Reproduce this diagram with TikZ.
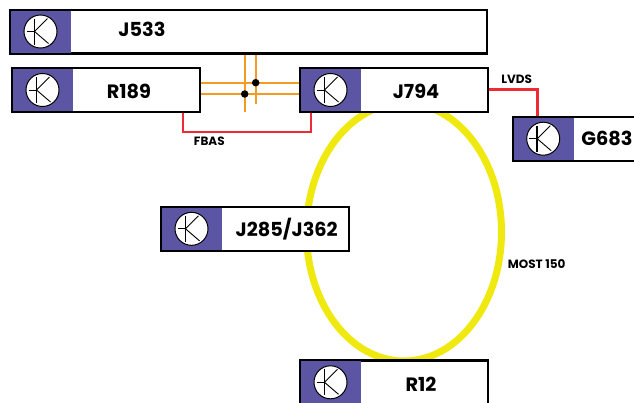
\documentclass[tikz,border=0pt]{standalone}
\usepackage{fontspec}
\setmainfont{Poppins}
\usepackage{tikz}
\usetikzlibrary{calc}
\definecolor{ecupurple}{HTML}{5B55A3}
\definecolor{mostyellow}{HTML}{F0E90F}
\definecolor{busorange}{HTML}{F59A23}
\definecolor{busred}{HTML}{EE2A35}
\tikzset{
  ecubox/.style={draw=black, fill=white, line width=2.2pt, anchor=north west, minimum height=43.8pt},
  ecuhead/.style={fill=ecupurple, anchor=west, minimum width=60pt, minimum height=42pt, inner sep=0pt, outer sep=0pt},
  ecucirc/.style={circle, draw=black, fill=white, line width=1pt, minimum size=33pt, inner sep=0pt},
  ecuname/.style={font=\fontsize{19.3}{21}\selectfont\bfseries, inner sep=0pt, anchor=base},
  busname/.style={font=\fontsize{12}{14}\selectfont\bfseries, inner sep=0pt, anchor=base},
  orangebus/.style={busorange, line width=2.4pt},
  redbus/.style={busred, line width=2.4pt},
  ringbus/.style={mostyellow, line width=7pt},
  jointdot/.style={circle, fill=black, minimum size=7.5pt, inner sep=0pt},
}
\begin{document}
\begin{tikzpicture}[x=1pt, y=-1pt]
  \useasboundingbox (0,0) rectangle (634,402);
  \clip (0,0) rectangle (634,402);
  % ring first, the boxes sit on it
  \draw[ringbus] (404,232) ellipse [x radius=97.5, y radius=129];
  % name/left/top/width/text x/text baseline/text
  \foreach \name/\xa/\ya/\boxw/\tx/\ty/\lab in {
      J533/9/8.5/476.8/142/36.7/J533,
      R189/11/67/187.8/129/98.3/R189,
      J794/299/67/187.8/416/98.3/J794,
      G683/511.7/115.7/187.8/607/145/G683,
      J285/160/205.8/187.8/286.7/236.7/J285\slash J362,
      R12/299/359.3/187.8/421/391/R12} {
    \node[ecubox, minimum width=\boxw pt] (\name) at (\xa,\ya) {};
    \node[ecuhead] (\name head) at ($(\name.west)+(2.2,0)$) {};
    \node[ecucirc] (\name circ) at ($(\name.west)+(31.5,0)$) {};
    \draw[line width=0.7pt] ($(\name circ)+(-14,0)$) -- ($(\name circ)+(-6,0)$);
    \draw[line width=1.5pt] ($(\name circ)+(-6,-13)$) -- ($(\name circ)+(-6,13)$);
    \draw[line width=0.9pt] ($(\name circ)+(7,-13)$) -- ($(\name circ)+(-6,0)$) -- ($(\name circ)+(8,12)$);
    \node[ecuname] (\name label) at (\tx,\ty) {\lab};
  }
  % FBAS
  \coordinate (fbasA) at (182.7,131.7);
  \coordinate (fbasB) at (310.7,131.7);
  \draw[redbus] (R189.south -| fbasA) -- (fbasA) -- (fbasB) -- (J794.south -| fbasB);
  \node[busname] (fbas) at (209.3,145.7) {FBAS};
  % LVDS
  \coordinate (lvdsA) at (537.3,89.3);
  \draw[redbus] (J794.east |- lvdsA) -- (lvdsA) -- (G683.north -| lvdsA);
  \node[busname] (lvds) at (516.7,83.3) {LVDS};
  \node[busname] (most) at (536.7,268.3) {MOST 150};
  % orange bus
  \coordinate (busA) at (230,82.7);
  \coordinate (busB) at (230,94);
  \coordinate (tapA) at (244.7,111.7);
  \coordinate (tapB) at (255.7,104.3);
  \draw[orangebus] (R189.east |- busA) -- (J794.west |- busA);
  \draw[orangebus] (R189.east |- busB) -- (J794.west |- busB);
  \draw[orangebus] (J533.south -| tapA) -- (tapA);
  \draw[orangebus] (J533.south -| tapB) -- (tapB);
  \node[jointdot] (dotA) at (tapA |- busB) {};
  \node[jointdot] (dotB) at (tapB |- busA) {};
\end{tikzpicture}
\end{document}
